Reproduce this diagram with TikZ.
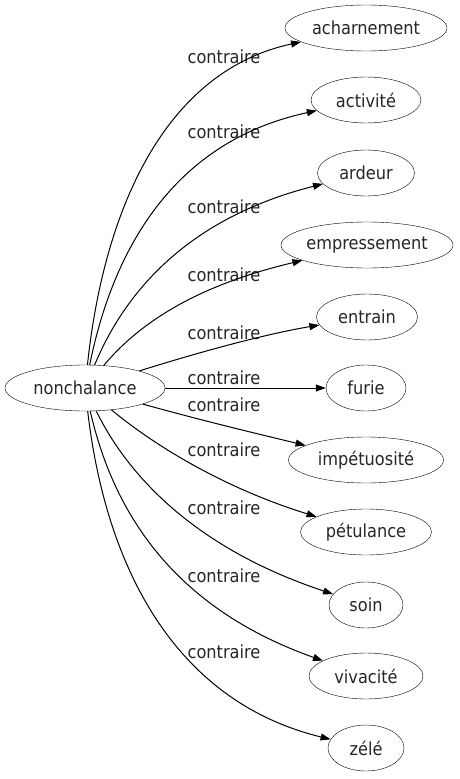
\documentclass[tikz,border=0pt]{standalone}
\usepackage{fontspec}
\setmainfont{DejaVu Sans Condensed}
\usetikzlibrary{arrows.meta, shapes.geometric}

\begin{document}
\begin{tikzpicture}[x=1pt, y=-1pt,
        every node/.style={font=\fontsize{18}{21}\selectfont, text=black!85},
        word/.style={draw=black, ellipse, inner sep=0pt, minimum height=46pt},
        lbl/.style={inner sep=0pt},
        rel/.style={-{Triangle[length=10pt,width=7pt]}, line width=1pt}]
      \useasboundingbox (0,0) rectangle (460,779);
      \node[word, minimum width=160pt] (non) at (85, 388) {nonchalance};
      \node[word, minimum width=162pt] (ach) at (366, 28)  {acharnement};
      \node[word, minimum width=110pt] (act) at (366, 100) {activité};
      \node[word, minimum width=97pt]  (ard) at (366, 173) {ardeur};
      \node[word, minimum width=172pt] (emp) at (367, 245) {empressement};
      \node[word, minimum width=101pt] (ent) at (367, 317) {entrain};
      \node[word, minimum width=80pt]  (fur) at (366, 388) {furie};
      \node[word, minimum width=155pt] (imp) at (366, 460) {impétuosité};
      \node[word, minimum width=131pt] (pet) at (366, 532) {pétulance};
      \node[word, minimum width=74pt]  (soi) at (366, 605) {soin};
      \node[word, minimum width=114pt] (viv) at (366, 676) {vivacité};
      \node[word, minimum width=76pt]  (zel) at (366, 748) {zélé};
      % labels
      \node[lbl] (l1)  at (224, 57)  {contraire};
      \node[lbl] (l2)  at (224, 132) {contraire};
      \node[lbl] (l3)  at (224, 207) {contraire};
      \node[lbl] (l4)  at (224, 275) {contraire};
      \node[lbl] (l5)  at (224, 333) {contraire};
      \node[lbl] (l6)  at (224, 378) {contraire};
      \node[lbl] (l7)  at (224, 405) {contraire};
      \node[lbl] (l8)  at (224, 450) {contraire};
      \node[lbl] (l9)  at (224, 508) {contraire};
      \node[lbl] (l10) at (224, 576) {contraire};
      \node[lbl] (l11) at (224, 652) {contraire};
      % edges
      \draw[rel] (non) .. controls (105,200) and (170,70)  .. (ach);
      \draw[rel] (non) .. controls (115,240) and (180,140) .. (act);
      \draw[rel] (non) .. controls (130,280) and (200,215) .. (ard);
      \draw[rel] (non) .. controls (150,310) and (220,280) .. (emp);
      \draw[rel] (non) .. controls (190,355) and (260,335) .. (ent);
      \draw[rel] (non) -- (fur);
      \draw[rel] (non) .. controls (200,420) and (250,432) .. (imp);
      \draw[rel] (non) .. controls (160,450) and (230,490) .. (pet);
      \draw[rel] (non) .. controls (130,480) and (200,550) .. (soi);
      \draw[rel] (non) .. controls (115,520) and (180,610) .. (viv);
      \draw[rel] (non) .. controls (105,560) and (170,700) .. (zel);
\end{tikzpicture}
\end{document}
